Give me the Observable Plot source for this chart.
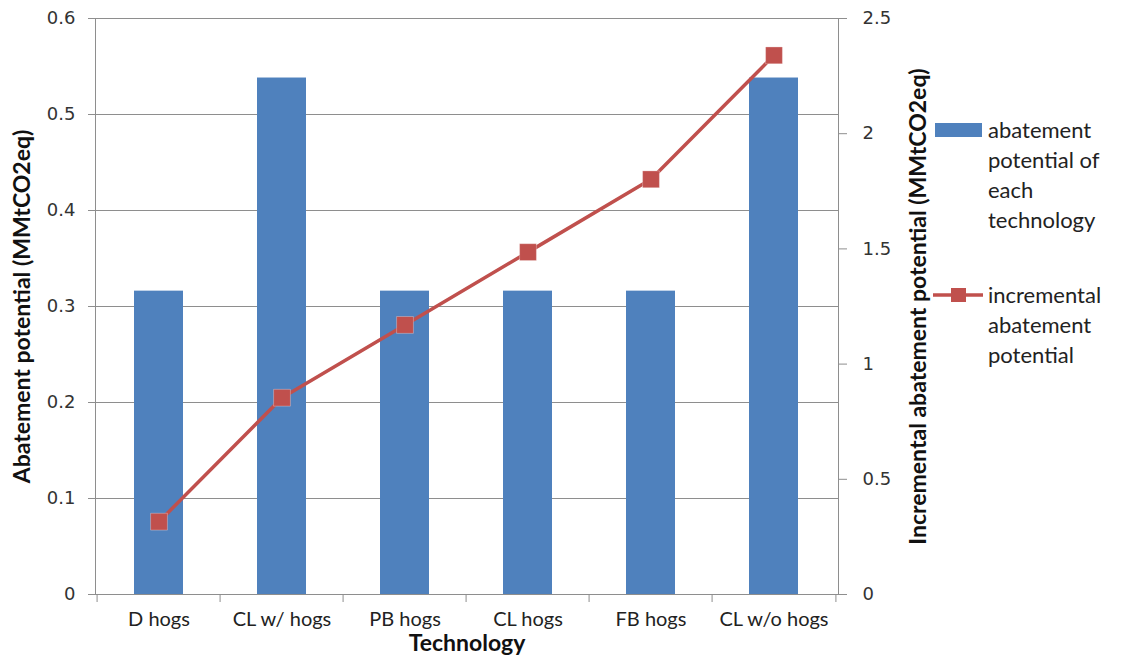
<!DOCTYPE html>
<html>
<head>
<meta charset="utf-8">
<script src="https://cdn.jsdelivr.net/npm/d3@7"></script>
<script src="https://cdn.jsdelivr.net/npm/@observablehq/plot@0.6"></script>
<style>
  html, body { margin: 0; padding: 0; background: #fff; }
  #wrap { position: relative; width: 1122px; height: 662px; overflow: hidden; }
  #legend { position: absolute; left: 933px; top: 0; font-family: Lato, "DejaVu Sans", sans-serif; font-size: 22px; color: #222; line-height: 30px; }
  .item { position: absolute; left: 0; display: flex; align-items: flex-start; }
  .item svg { flex: none; }
  .item .txt { margin-left: 5px; white-space: nowrap; }
</style>
</head>
<body>
<div id="wrap">
  <div id="chart"></div>
  <div id="legend"></div>
</div>
<script>
const categories = ["D hogs", "CL w/ hogs", "PB hogs", "CL hogs", "FB hogs", "CL w/o hogs"];
const abatement = [0.316, 0.538, 0.316, 0.316, 0.316, 0.538];
const incremental = [0.316, 0.854, 1.170, 1.486, 1.802, 2.340];
const leftTicks = [0, 0.1, 0.2, 0.3, 0.4, 0.5, 0.6];
const rightTicks = [0, 0.5, 1, 1.5, 2, 2.5];
const legendLines = [["abatement", "potential of", "each", "technology"], ["incremental", "abatement", "potential"]];
const xTitle = "Technology";
const yLeftTitle = "Abatement potential (MMtCO2eq)";
const yRightTitle = "Incremental abatement potential (MMtCO2eq)";

const barColor = "#4F81BD";
const lineColor = "#C0504D";
const gridColor = "#8E8E8E";
const k = 0.6 / 2.5; // right axis -> left axis

const data = categories.map((c, i) => ({cat: c, bar: abatement[i], inc: incremental[i]}));

const W = 1122, H = 662, mL = 95, mR = 284, mT = 18, mB = 68;
const step = (W - mL - mR) / categories.length;
const fmt = d => String(Math.round(d * 10) / 10);

const chart = Plot.plot({
  width: W, height: H,
  marginLeft: mL, marginRight: mR, marginTop: mT, marginBottom: mB,
  style: {background: "#fff", color: "#333"},
  x: {domain: categories, paddingInner: 0.6, paddingOuter: 0.3, axis: null},
  y: {domain: [0, 0.6], axis: null},
  marks: [
    Plot.gridY(leftTicks, {stroke: gridColor, strokeOpacity: 1}),
    Plot.barY(data, {x: "cat", y: "bar", fill: barColor}),
    Plot.frame({stroke: gridColor}),
    Plot.axisY(leftTicks, {anchor: "left", tickSize: 7, tickPadding: 13, tickFormat: fmt, stroke: gridColor,
      fontSize: 18, fontFamily: "DejaVu Sans", fill: "#333", label: null}),
    Plot.axisY(rightTicks.map(v => v * k), {anchor: "right", tickSize: 8, tickPadding: 16,
      tickFormat: d => fmt(d / k), stroke: gridColor, fontSize: 18, fontFamily: "DejaVu Sans", fill: "#333", label: null}),
    Plot.axisX(categories, {tickSize: 0, tickPadding: 17, fontSize: 20, fontFamily: "Lato", fill: "#222", label: null}),
    Plot.axisX(categories, {tickSize: 8, tickFormat: () => "", dx: -step / 2, stroke: gridColor, label: null}),
    Plot.axisX([categories[categories.length - 1]], {tickSize: 8, tickFormat: () => "", dx: step / 2, stroke: gridColor, label: null}),
    Plot.line(data, {x: "cat", y: d => d.inc * k, stroke: lineColor, strokeWidth: 3.5}),
    Plot.dot(data, {x: "cat", y: d => d.inc * k, symbol: "square", r: 9.5, fill: lineColor, stroke: "#fff", strokeWidth: 0.5, strokeOpacity: 0.6}),
    Plot.text([yLeftTitle], {frameAnchor: "left", textAnchor: "middle", rotate: -90, dx: -73, fontSize: 23, fontWeight: "bold", fontFamily: "Lato", fill: "#111"}),
    Plot.text([yRightTitle], {frameAnchor: "right", textAnchor: "middle", rotate: -90, dx: 80, fontSize: 23, fontWeight: "bold", fontFamily: "Lato", fill: "#111"}),
    Plot.text([xTitle], {frameAnchor: "bottom", textAnchor: "middle", dy: 56, fontSize: 23, fontWeight: "bold", fontFamily: "Lato", fill: "#111"})
  ]
});
document.getElementById("chart").appendChild(chart);

// Legend
const legend = document.getElementById("legend");
const items = [
  {lines: legendLines[0], top: 115,
   swatch: `<svg width="50" height="30"><rect x="2" y="8" width="47" height="14" fill="${barColor}"/></svg>`},
  {lines: legendLines[1], top: 280,
   swatch: `<svg width="50" height="30"><line x1="0" y1="15" x2="50" y2="15" stroke="${lineColor}" stroke-width="3.5"/><rect x="18" y="8" width="15" height="14" fill="${lineColor}"/></svg>`}
];
for (const it of items) {
  const div = document.createElement("div");
  div.className = "item";
  div.style.top = it.top + "px";
  div.innerHTML = it.swatch + `<div class="txt">${it.lines.join("<br>")}</div>`;
  legend.appendChild(div);
}
</script>
</body>
</html>
